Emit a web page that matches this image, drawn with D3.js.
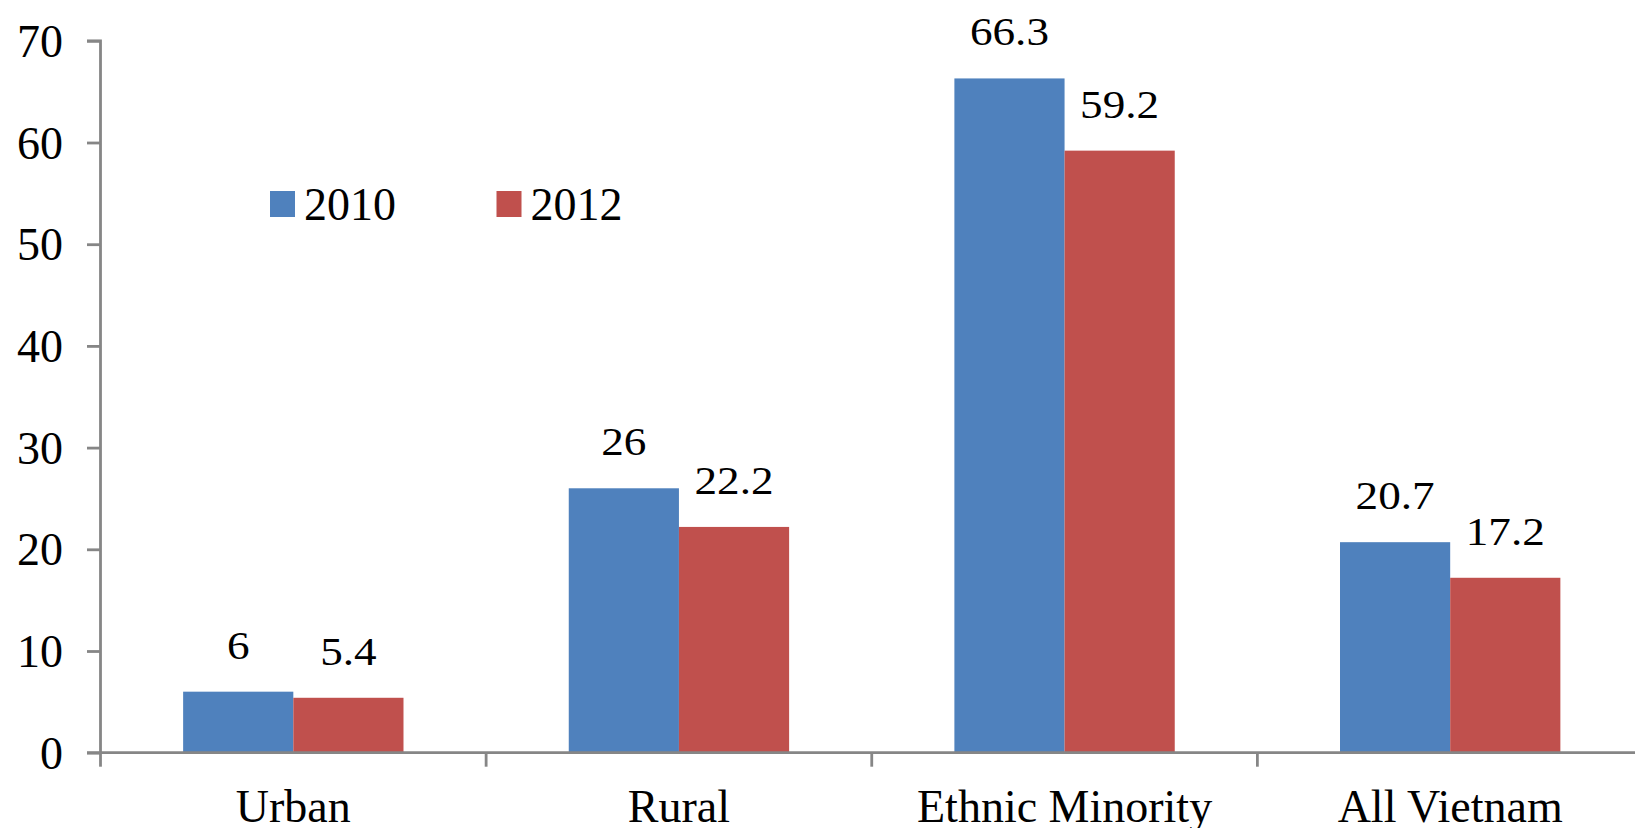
<!DOCTYPE html>
<html>
<head>
<meta charset="utf-8">
<script src="https://cdn.jsdelivr.net/npm/d3@7"></script>
<style>
  html, body { margin: 0; padding: 0; background: #fff; }
  svg { display: block; }
  text { font-family: "Liberation Serif", "Times New Roman", serif; fill: #000; }
</style>
</head>
<body>
<svg id="chart" width="1635" height="828"></svg>
<script>
const categories = ["Urban", "Rural", "Ethnic Minority", "All Vietnam"];
const seriesNames = ["2010", "2012"];
const values2010 = [6, 26, 66.3, 20.7];
const values2012 = [5.4, 22.2, 59.2, 17.2];
const yTicks = [0, 10, 20, 30, 40, 50, 60, 70];
const colors = ["#4F81BD", "#C0504D"];

(function () {
const svg = d3.select("#chart");
const mLeft = 100.5, mRight = 1643, mTop = 40.8, mBottom = 752.7;
const axisColor = "#868686";

const x = d3.scaleBand().domain(categories).range([mLeft, mRight]).paddingInner(0).paddingOuter(0);
const y = d3.scaleLinear().domain([0, 70]).range([mBottom, mTop]);

const series = [values2010, values2012];
// gap width 150%: two bars of width w plus 1.5w gap -> 3.5w = bandwidth
const barW = x.bandwidth() / 3.5;
const barX = (i, si) => x(categories[i]) + x.bandwidth() / 2 - barW + si * barW;

// bars
series.forEach((vals, si) => {
  svg.append("g").selectAll("rect")
    .data(vals)
    .join("rect")
    .attr("x", (d, i) => barX(i, si))
    .attr("y", d => y(d))
    .attr("width", barW)
    .attr("height", d => y(0) - y(d))
    .attr("fill", colors[si]);
});

// value labels
series.forEach((vals, si) => {
  svg.append("g").selectAll("text")
    .data(vals)
    .join("text")
    .attr("transform", (d, i) => `translate(${barX(i, si) + barW / 2},${y(d) - 33}) scale(1.13,1)`)
    .attr("text-anchor", "middle")
    .attr("font-size", 40)
    .text(d => d);
});

// y axis
const yAxis = d3.axisLeft(y).tickValues(yTicks).tickSize(13.5).tickPadding(24).tickFormat(d3.format("d"));
const gy = svg.append("g").attr("transform", `translate(${mLeft},0)`).call(yAxis);
gy.select(".domain").attr("stroke", axisColor).attr("stroke-width", 2.8).attr("d", `M-13.5,${mTop}H0V${mBottom}`);
gy.selectAll(".tick line").attr("stroke", axisColor).attr("stroke-width", 2.8);
gy.selectAll(".tick text").attr("font-size", 46).attr("font-family", '"Liberation Serif", serif').attr("fill", "#000").attr("dy", "0.34em");

// x axis
const xAxis = d3.axisBottom(x).tickSize(0).tickPadding(0);
const gx = svg.append("g").attr("transform", `translate(0,${mBottom})`).call(xAxis);
gx.select(".domain").attr("stroke", axisColor).attr("stroke-width", 2.8).attr("d", `M${mLeft - 13.5},0H${mRight}`);
gx.selectAll(".tick text").attr("font-size", 46).attr("font-family", '"Liberation Serif", serif').attr("fill", "#000").attr("y", 69).attr("dy", 0);
// category boundary ticks
const bounds = categories.map(c => x(c)).concat([mRight]);
gx.append("g").selectAll("line").data(bounds).join("line")
  .attr("x1", d => d).attr("x2", d => d).attr("y1", 0).attr("y2", 14)
  .attr("stroke", axisColor).attr("stroke-width", 2.8);

// legend
const legendX = [270, 496.5];
const lg = svg.append("g");
seriesNames.forEach((s, i) => {
  lg.append("rect").attr("x", legendX[i]).attr("y", 191).attr("width", 25).attr("height", 26).attr("fill", colors[i]);
  lg.append("text").attr("x", legendX[i] + 34).attr("y", 219.5).attr("font-size", 46).text(s);
});
})();
</script>
</body>
</html>
